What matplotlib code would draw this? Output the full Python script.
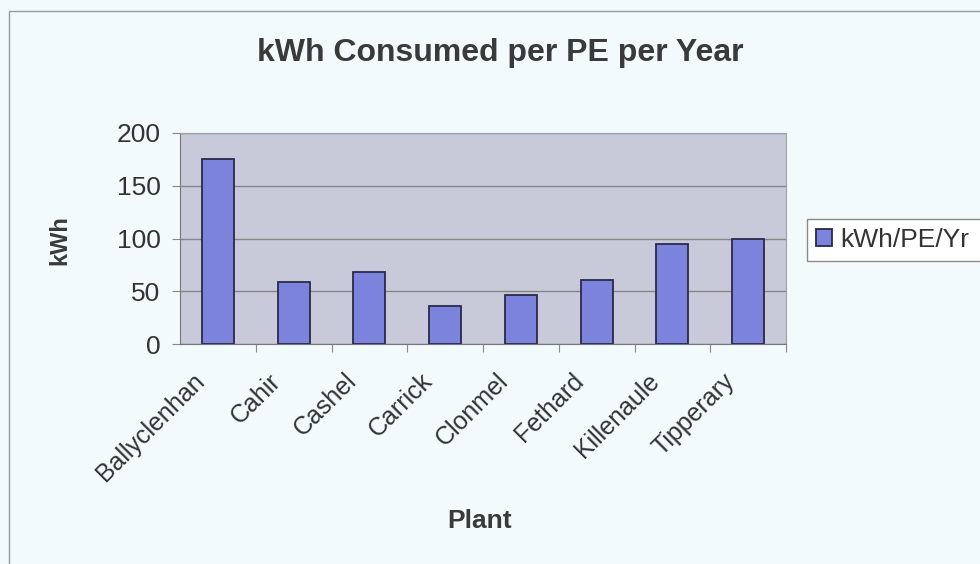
import numpy as np
import matplotlib
matplotlib.use("Agg")
import matplotlib.pyplot as plt
from matplotlib.patches import Rectangle

plants = ["Ballyclenhan", "Cahir", "Cashel", "Carrick", "Clonmel",
          "Fethard", "Killenaule", "Tipperary"]
kwh = [175, 59, 68.5, 36, 46, 60.5, 94.5, 100]
yticks = [0, 50, 100, 150, 200]

plt.rcParams['font.family'] = ['Liberation Sans', 'DejaVu Sans']

W, H = 980, 564
fig = plt.figure(figsize=(W / 100, H / 100), dpi=100, facecolor='#f3fafb')

def fx(px):
    return px / W

def fy(py):
    return 1 - py / H

# outer chart border (runs off right and bottom edges)
fig.patches.append(Rectangle((fx(9), -0.1), 1.2, fy(11) + 0.1, transform=fig.transFigure,
                             fill=False, edgecolor='#9a9a9a', linewidth=1.0))

ax = fig.add_axes([fx(180), fy(344), fx(786 - 180), (344 - 133) / H])
ax.set_facecolor('#c8cad9')

x = np.arange(len(plants))
ax.bar(x, kwh, width=0.42, color='#7b83dc', edgecolor='#2a2a4a', linewidth=1.3,
       label='kWh/PE/Yr', zorder=3)

ax.set_xlim(-0.5, len(plants) - 0.5)
ax.set_ylim(0, 200)
ax.set_yticks(yticks)
ax.set_yticklabels([str(v) for v in yticks], fontsize=19, color='#333333')
ax.yaxis.grid(True, color='#858585', linewidth=1.0, zorder=0)

ax.set_xticks(x + 0.5)
ax.set_xticklabels([''] * len(plants))
# category labels sit a little left of the bar centre, as in the original
ax.set_xticks(x - 0.22, minor=True)
ax.set_xticklabels(plants, minor=True, rotation=45, ha='right', va='center',
                   rotation_mode='anchor', fontsize=18, color='#333333')
ax.tick_params(axis='x', which='minor', length=0, pad=24)
ax.tick_params(axis='x', which='major', length=6, direction='out', color='#888888')
ax.tick_params(axis='y', length=6, direction='out', color='#888888', pad=8)

for s in ['top', 'right']:
    ax.spines[s].set_color('#a0a0a0')
ax.spines['left'].set_color('#777777')
ax.spines['bottom'].set_color('#777777')

fig.text(fx(500), fy(53), 'kWh Consumed per PE per Year', ha='center', va='center',
         fontsize=23, fontweight='bold', color='#3a3a3a')
fig.text(fx(60), fy(240), 'kWh', rotation=90, ha='center', va='center',
         fontsize=17, fontweight='bold', color='#3a3a3a')
fig.text(fx(480), fy(521), 'Plant', ha='center', va='center',
         fontsize=19, fontweight='bold', color='#3a3a3a')

# legend box, running off the right edge like the reference
fig.patches.append(Rectangle((fx(807), fy(261)), 0.3, (261 - 219) / H,
                             transform=fig.transFigure, facecolor='white',
                             edgecolor='#8a8a8a', linewidth=1.0))
leg = fig.legend(loc='center left', bbox_to_anchor=(fx(811), fy(240)), fontsize=19,
                 frameon=False, handlelength=0.6, handleheight=0.6, handletextpad=0.3,
                 borderpad=0.2, borderaxespad=0, labelcolor='#333333')

fig.savefig('out.png', dpi=100, facecolor=fig.get_facecolor())
